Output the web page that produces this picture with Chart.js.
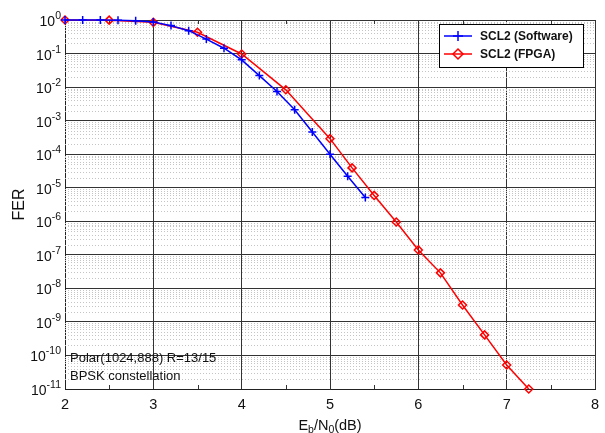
<!DOCTYPE html>
<html>
<head>
<meta charset="utf-8">
<script src="https://cdn.jsdelivr.net/npm/chart.js"></script>
<style>
  body { margin: 0; background: #fff; }
  canvas { display: block; }
</style>
</head>
<body>
<canvas id="chart" width="605" height="433"></canvas>
<script>
// SCL2 software decoder
const softEbN0 = [2, 2.2, 2.4, 2.6, 2.8, 3, 3.2, 3.4, 3.6, 3.8, 4, 4.2, 4.4, 4.6, 4.8, 5, 5.2, 5.4];
const softFER = [1, 1, 1, 0.98, 0.95, 0.87, 0.68, 0.48, 0.27, 0.144, 0.065, 0.022, 0.0074, 0.0021, 4.6e-4, 1.0e-4, 2.2e-5, 5.1e-6];

// SCL2 on the FPGA
const fpgaEbN0 = [2, 2.5, 3, 3.5, 4, 4.5, 5, 5.25, 5.5, 5.75, 6, 6.25, 6.5, 6.75, 7, 7.25];
const fpgaFER = [1, 0.99, 0.85, 0.43, 0.097, 0.0083, 2.9e-4, 3.9e-5, 5.9e-6, 9.5e-7, 1.4e-7, 2.9e-8, 3.2e-9, 4.1e-10, 5.2e-11, 1.0e-11];

const xTicks = [2, 3, 4, 5, 6, 7, 8];
const yExps = [0, -1, -2, -3, -4, -5, -6, -7, -8, -9, -10, -11];
const seriesNames = ['SCL2 (Software)', 'SCL2 (FPGA)'];
const noteLines = ['Polar(1024,888) R=13/15', 'BPSK constellation'];

const FONT = '"Liberation Sans", Arial, sans-serif';

function toPoints(xs, ys) {
    return xs.map((x, i) => ({x: x, y: ys[i]}));
}

function drawCross(ctx, x, y, r) {
    ctx.beginPath();
    ctx.moveTo(x - r, y); ctx.lineTo(x + r, y);
    ctx.moveTo(x, y - r); ctx.lineTo(x, y + r);
    ctx.stroke();
}

function drawDiamond(ctx, x, y, r) {
    ctx.beginPath();
    ctx.moveTo(x, y - r); ctx.lineTo(x + r, y);
    ctx.lineTo(x, y + r); ctx.lineTo(x - r, y);
    ctx.closePath();
    ctx.stroke();
}

// dotted minor grid, inner ticks, tick labels with exponents, titles, legend and note
const decorations = {
    id: 'decorations',
    beforeDatasetsDraw(chart) {
        let ctx = chart.ctx;
        let area = chart.chartArea;
        let ys = chart.scales.y;
        let xs = chart.scales.x;
        ctx.save();
        ctx.strokeStyle = '#c4c4c4';
        ctx.lineWidth = 1;
        ctx.setLineDash([1, 2]);
        for (let e = -11; e < 0; e++) {
            for (let m = 2; m <= 9; m++) {
                let py = Math.round(ys.getPixelForValue(m * Math.pow(10, e))) + 0.5;
                ctx.beginPath();
                ctx.moveTo(area.left, py);
                ctx.lineTo(area.right, py);
                ctx.stroke();
            }
        }
        ctx.setLineDash([]);
        ctx.strokeStyle = '#333';
        for (let v = 2.5; v < 8; v += 1) {
            let px = Math.round(xs.getPixelForValue(v)) + 0.5;
            ctx.beginPath();
            ctx.moveTo(px, area.bottom);
            ctx.lineTo(px, area.bottom - 4);
            ctx.moveTo(px, area.top);
            ctx.lineTo(px, area.top + 4);
            ctx.stroke();
        }
        ctx.restore();
    },
    afterDraw(chart) {
        let ctx = chart.ctx;
        let area = chart.chartArea;
        let ys = chart.scales.y;
        let xs = chart.scales.x;
        ctx.save();
        ctx.fillStyle = '#111';

        // y labels: 10^e
        ctx.textBaseline = 'alphabetic';
        ctx.textAlign = 'left';
        yExps.forEach(e => {
            let py = ys.getPixelForValue(Math.pow(10, e));
            let expText = String(e);
            ctx.font = '10.5px ' + FONT;
            let expW = ctx.measureText(expText).width;
            ctx.font = '14px ' + FONT;
            let baseW = ctx.measureText('10').width;
            let x0 = 61 - expW - baseW;
            ctx.fillText('10', x0, py + 6);
            ctx.font = '10.5px ' + FONT;
            ctx.fillText(expText, x0 + baseW, py - 1);
        });

        // x labels
        ctx.font = '14.5px ' + FONT;
        ctx.textAlign = 'center';
        ctx.textBaseline = 'middle';
        xTicks.forEach(v => {
            ctx.fillText(String(v), xs.getPixelForValue(v), 405);
        });

        // x title: Eb/N0(dB)
        let parts = [['E', 14.5, 0], ['b', 10.5, 3], ['/N', 14.5, 0], ['0', 10.5, 3], ['(dB)', 14.5, 0]];
        let total = 0;
        parts.forEach(p => { ctx.font = p[1] + 'px ' + FONT; total += ctx.measureText(p[0]).width; });
        let cx = (area.left + area.right) / 2 - total / 2;
        ctx.textAlign = 'left';
        ctx.textBaseline = 'alphabetic';
        parts.forEach(p => {
            ctx.font = p[1] + 'px ' + FONT;
            ctx.fillText(p[0], cx, 430 + p[2]);
            cx += ctx.measureText(p[0]).width;
        });

        // y title
        ctx.save();
        ctx.translate(20, (area.top + area.bottom) / 2);
        ctx.rotate(-Math.PI / 2);
        ctx.textAlign = 'center';
        ctx.textBaseline = 'middle';
        ctx.font = '16px ' + FONT;
        ctx.fillText('FER', 0, 0);
        ctx.restore();

        // code description in the lower left corner
        ctx.font = '13px ' + FONT;
        ctx.textAlign = 'left';
        ctx.textBaseline = 'middle';
        ctx.fillText(noteLines[0], area.left + 5, 358);
        ctx.fillText(noteLines[1], area.left + 5, 376);

        // legend box
        let lx = 439, ly = 24, lw = 144, lh = 43;
        ctx.fillStyle = '#fff';
        ctx.fillRect(lx, ly, lw, lh);
        ctx.strokeStyle = '#000';
        ctx.lineWidth = 1;
        ctx.strokeRect(lx + 0.5, ly + 0.5, lw, lh);
        chart.data.datasets.forEach((ds, i) => {
            let rowY = ly + 12 + i * 18;
            ctx.strokeStyle = ds.borderColor;
            ctx.lineWidth = 1.5;
            ctx.beginPath();
            ctx.moveTo(lx + 5, rowY);
            ctx.lineTo(lx + 33, rowY);
            ctx.stroke();
            if (ds.pointStyle === 'cross') {
                drawCross(ctx, lx + 19, rowY, 5);
            } else {
                drawDiamond(ctx, lx + 19, rowY, 5);
            }
            ctx.fillStyle = '#111';
            ctx.font = 'bold 12px ' + FONT;
            ctx.textAlign = 'left';
            ctx.textBaseline = 'middle';
            ctx.fillText(seriesNames[i], lx + 41, rowY + 1);
        });
        ctx.restore();
    }
};

let ctx = document.getElementById('chart').getContext('2d');
let grafico = new Chart(ctx, {
    type: 'line',
    data: {
        datasets: [
            {
                label: seriesNames[0],
                data: toPoints(softEbN0, softFER),
                borderColor: '#0000ff',
                backgroundColor: '#0000ff',
                borderWidth: 1.5,
                pointStyle: 'cross',
                pointRadius: 4,
                pointBorderWidth: 1.5,
                fill: false,
                tension: 0
            },
            {
                label: seriesNames[1],
                data: toPoints(fpgaEbN0, fpgaFER),
                borderColor: '#ff0000',
                backgroundColor: 'rgba(255,255,255,0)',
                borderWidth: 1.5,
                pointStyle: 'rectRot',
                pointRadius: 4,
                pointBorderWidth: 1.5,
                fill: false,
                tension: 0
            }
        ]
    },
    options: {
        responsive: false,
        animation: false,
        clip: false,
        layout: {padding: {top: 20, right: 10, left: 0, bottom: 0}},
        plugins: {legend: {display: false}, tooltip: {enabled: false}},
        scales: {
            x: {
                type: 'linear',
                min: 2,
                max: 8,
                ticks: {stepSize: 1, display: false},
                grid: {color: '#333', lineWidth: 1, drawTicks: false},
                border: {color: '#222'},
                afterFit: s => { s.height = 44; }
            },
            y: {
                type: 'logarithmic',
                min: 1e-11,
                max: 1,
                ticks: {display: false},
                afterBuildTicks: s => { s.ticks = yExps.map(e => ({value: Math.pow(10, e)})); },
                grid: {color: '#333', lineWidth: 1, drawTicks: false},
                border: {color: '#222'},
                afterFit: s => { s.width = 65; }
            }
        }
    },
    plugins: [decorations]
});
</script>
</body>
</html>
